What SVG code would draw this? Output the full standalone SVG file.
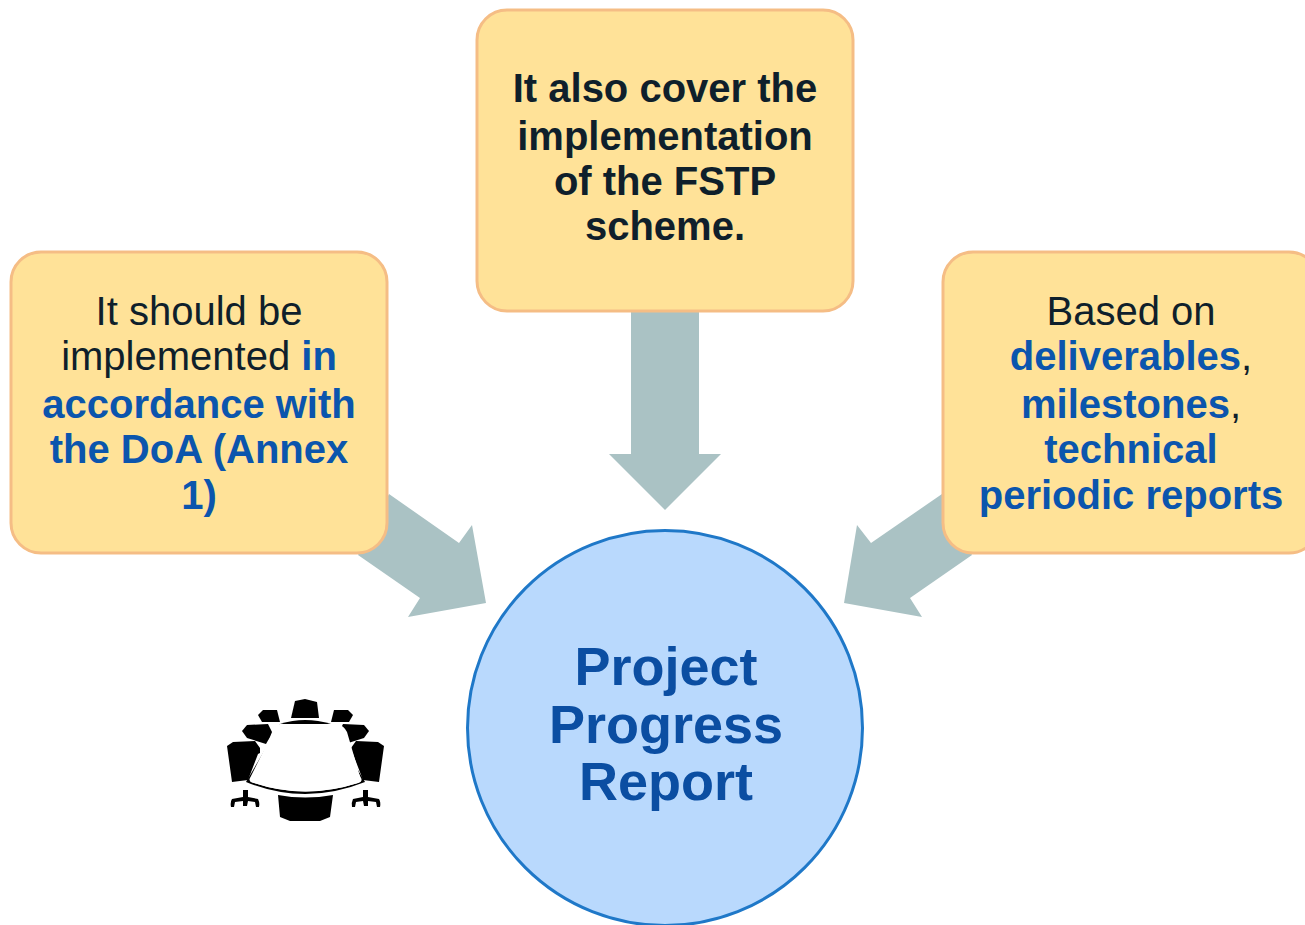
<svg xmlns="http://www.w3.org/2000/svg" width="1305" height="925" viewBox="0 0 1305 925">
<style>
text{font-family:"Liberation Sans",Arial,sans-serif;text-anchor:middle;fill:#0f1f2b}
.t{font-size:40px}
.b{font-weight:700}
.h{font-weight:700;fill:#0b55ad}
.box{fill:#ffe298;stroke:#f5bd85;stroke-width:3}
.arr{fill:#aac2c4}
.i{fill:#000}
</style>
<rect width="1305" height="925" fill="#fff"/>
<g id="connectors">
<polygon class="arr" points="631,305 699,305 699,454 721,454 665,510 609,454 631,454"/>
<polygon class="arr" points="389,494 459,543 472,525 486,603 408,617 420,598 358,555"/>
<polygon class="arr" points="942,494 871,543 857,525 844,603 922,617 910,598 972,555"/>
</g>
<g id="node-left">
<rect class="box" x="11" y="252" width="376" height="301" rx="30"/>
<text class="t" x="199" y="325">It should be</text>
<text class="t" x="199" y="370">implemented <tspan class="h">in</tspan></text>
<text class="t h" x="199" y="418">accordance with</text>
<text class="t h" x="199" y="463">the DoA (Annex</text>
<text class="t h" x="199" y="509">1)</text>
</g>
<g id="node-top">
<rect class="box" x="477" y="10" width="376" height="301" rx="30"/>
<text class="t b" x="665" y="102">It also cover the</text>
<text class="t b" x="665" y="150">implementation</text>
<text class="t b" x="665" y="195">of the FSTP</text>
<text class="t b" x="665" y="240">scheme.</text>
</g>
<g id="node-right">
<rect class="box" x="943" y="252" width="376" height="301" rx="30"/>
<text class="t" x="1131" y="325">Based on</text>
<text class="t" x="1131" y="370"><tspan class="h">deliverables</tspan>,</text>
<text class="t" x="1131" y="418"><tspan class="h">milestones</tspan>,</text>
<text class="t h" x="1131" y="463">technical</text>
<text class="t h" x="1131" y="509">periodic reports</text>
</g>
<g id="node-center">
<circle cx="665" cy="728" r="197.500" fill="#b9d9fd" stroke="#1f78c8" stroke-width="3"/>
<text class="h" style="font-size:54px;fill:#0b4ea2" x="666" y="685">Project</text>
<text class="h" style="font-size:54px;fill:#0b4ea2" x="666" y="743">Progress</text>
<text class="h" style="font-size:54px;fill:#0b4ea2" x="666" y="800">Report</text>
</g>
<g id="node-icon">
<path class="i" d="M295,701 L305,699 L317,702 L319,718 L291,718 Z"/>
<path class="i" d="M258,715 L263,710 L277,710 L280,722 L262,722 Z"/>
<path class="i" d="M353,715 L348,710 L334,710 L331,722 L349,722 Z"/>
<path class="i" d="M242,731 L247,725 L268,724 L272,732 L270,737 L266,744 L247,738 Z"/>
<path class="i" d="M369,731 L364,725 L343,724 L339,732 L341,737 L345,744 L364,738 Z"/>
<path class="i" d="M227,746 L233,742 L255,741 L260,748 L260,753 L258,754 L248,780 L232,782 Z"/>
<path class="i" d="M384,746 L378,742 L356,741 L351,748 L351,753 L353,754 L363,780 L379,782 Z"/>
<path class="i" d="M280,724 Q305,716 331,724 L365,782 Q305,806 246,782 Z"/>
<path d="M286,724 L338,724 Q344,726 347,732 L361,780 Q362,782 358,783 Q305,800 254,783 Q249,782 250,779 L281,729 Q283,725 286,724 Z" fill="#fff" transform="translate(0,0)"/>
<path d="M280,724 L332,724 Q335,725 337,728 L361,778 Q363,781 358,783 Q305,800 254,783 Q248,781 250,778 L275,728 Q277,725 280,724 Z" fill="#fff"/>
<path class="i" d="M278,795 Q305,800 333,795 L330,817 L320,821 L290,821 L280,817 Z"/>
<path class="i" d="M243,790 L248,790 L248,797 L258,799 Q260,803 259,807 L256,807 L255,802 L248,801 L247,806 L243,806 L243,801 L235,802 L234,807 L231,807 Q230,802 232,799 L243,797 Z"/>
<path class="i" d="M368,790 L363,790 L363,797 L353,799 Q351,803 352,807 L355,807 L356,802 L363,801 L364,806 L368,806 L368,801 L376,802 L377,807 L380,807 Q381,802 379,799 L368,797 Z"/>
</g>
</svg>
